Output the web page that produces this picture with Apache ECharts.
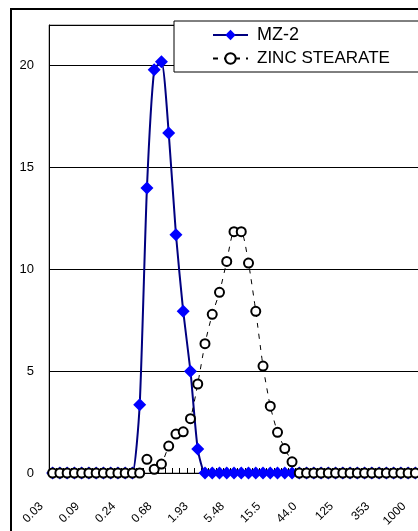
<!DOCTYPE html>
<html>
<head>
<meta charset="utf-8">
<script src="https://cdn.jsdelivr.net/npm/echarts@6/dist/echarts.min.js"></script>
<style>html,body{margin:0;padding:0;background:#fff;}#c{width:418px;height:531px;}</style>
</head>
<body>
<div id="c"></div>
<script>
// Particle size tick labels (shown every 5th channel)
const sizeTickLabels = ['0.03','0.09','0.24','0.68','1.93','5.48','15.5','44.0','125','353','1000'];
const labelEvery = 5;
// Series values per channel (51 channels)
const mz2 = [0,0,0,0,0,0,0,0,0,0,0,0,
  3.35,14.0,19.8,20.2,16.7,11.7,7.94,5.0,1.18,
  0,0,0,0,0,0,0,0,0,0,0,0,0,0,0,0,0,0,0,0,0,0,0,0,0,0,0,0,0,0];
const zincStearate = [0,0,0,0,0,0,0,0,0,0,0,0,0,
  0.67,0.18,0.44,1.32,1.91,2.02,2.67,4.37,6.35,7.79,8.87,10.39,11.85,11.85,10.31,7.94,5.25,3.28,2.0,1.2,0.55,
  0,0,0,0,0,0,0,0,0,0,0,0,0,0,0,0,0];
const seriesNames = ['MZ-2','ZINC STEARATE'];
const yTicks = {min:0, max:22, interval:5};

const channels = mz2.map((_, i) => i);
const chart = echarts.init(document.getElementById('c'), null, {renderer:'canvas'});
const font = 'Liberation Sans, Arial, sans-serif';
chart.setOption({
  animation:false,
  backgroundColor:'#fff',
  graphic:[{type:'rect', silent:true, z:100,
    shape:{x:11, y:9, width:700, height:800},
    style:{fill:'none', stroke:'#000', lineWidth:2}}],
  grid:{left:49, top:25, right:-1, bottom:58, show:true, borderColor:'#808080', borderWidth:1,
    outerBoundsMode:'none', containLabel:false},
  legend:{
    orient:'vertical', left:174, top:21,
    padding:[5,60,5,38],
    backgroundColor:'#fff', borderColor:'#000', borderWidth:1,
    itemWidth:35, itemHeight:13, itemGap:6,
    data:[{name:seriesNames[0], textStyle:{fontSize:18}}, {name:seriesNames[1], textStyle:{fontSize:17}}],
    textStyle:{color:'#000', fontFamily:'Liberation Sans Narrow, Liberation Sans, sans-serif', fontSize:17, padding:[0,0,0,4]},
    z:20
  },
  xAxis:{
    type:'category', data:channels, boundaryGap:true,
    axisLine:{show:true, lineStyle:{color:'#000', width:1}},
    axisTick:{show:true, inside:true, length:5, interval:0, lineStyle:{color:'#000'}},
    axisLabel:{interval:labelEvery-1, rotate:45, margin:20, color:'#000', fontSize:12, fontFamily:font,
      padding:[0,16,0,0],
      formatter:(v, idx) => sizeTickLabels[idx / labelEvery]},
    splitLine:{show:false}
  },
  yAxis:{
    type:'value', min:yTicks.min, max:yTicks.max, interval:yTicks.interval,
    axisLine:{show:true, lineStyle:{color:'#000', width:1}},
    axisTick:{show:false},
    axisLabel:{color:'#000', fontSize:13, fontFamily:font, margin:15, showMaxLabel:false},
    splitLine:{show:true, lineStyle:{color:'#000', width:1}}
  },
  series:[
    {name:seriesNames[0], type:'line', data:mz2, smooth:0.2,
      symbol:'diamond', symbolSize:13, showAllSymbol:true,
      itemStyle:{color:'#0000FF'},
      lineStyle:{color:'#000080', width:2}, z:2},
    {name:seriesNames[1], type:'line', data:zincStearate, smooth:0.2,
      symbol:'circle', symbolSize:9, showAllSymbol:true,
      itemStyle:{color:'#fff', borderColor:'#000', borderWidth:2},
      lineStyle:{color:'#000', width:1, type:[5,6]}, z:3}
  ]
});
</script>
</body>
</html>
